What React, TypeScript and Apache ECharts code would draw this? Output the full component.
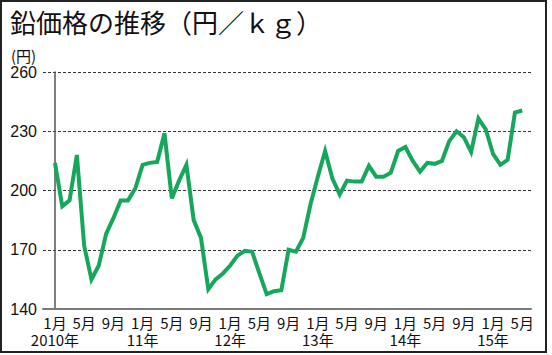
import React, { useEffect, useRef } from "react";
import * as echarts from "echarts";

const TITLE = "鉛価格の推移（円／ｋｇ）";
const UNIT = "(円)";

// Monthly lead price, Jan 2010 – May 2015 (index 0 = Jan 2010)
const prices2010 = [214, 192, 195, 218, 172, 155, 162, 178, 186, 195, 195, 201];
const prices2011 = [213, 214, 214.5, 229, 196, 205, 213, 185, 176, 150, 155, 158];
const prices2012 = [162, 167, 169.5, 169, 158, 147.5, 149, 149.5, 170, 169, 176, 193];
const prices2013 = [207, 220, 206, 198, 205, 204.5, 204.5, 212.5, 207, 207, 209, 220];
const prices2014 = [222, 215, 209.5, 214, 213.5, 215, 225, 230, 227, 219.5, 236.5, 231];
const prices2015 = [218.5, 213, 215.5, 239.5, 240.5];
const prices = [...prices2010, ...prices2011, ...prices2012, ...prices2013, ...prices2014, ...prices2015];

const monthTickPositions = [0, 4, 8, 12, 16, 20, 24, 28, 32, 36, 40, 44, 48, 52, 56, 60, 64];
const monthLabels = ["1月", "5月", "9月", "1月", "5月", "9月", "1月", "5月", "9月", "1月", "5月", "9月", "1月", "5月", "9月", "1月", "5月"];
const yearTickPositions = [0, 12, 24, 36, 48, 60];
const yearLabels = ["2010年", "11年", "12年", "13年", "14年", "15年"];

const yMin = 140;
const yMax = 260;
const yStep = 30;
const xMin = -1.64;
const xMax = 65.2;

const NARROW = "'Liberation Sans Narrow', 'Arial Narrow', 'Noto Sans CJK JP', sans-serif";
const CJK = "'Noto Sans CJK JP', sans-serif";

export default function App() {
  const ref = useRef<HTMLDivElement>(null);
  useEffect(() => {
    const chart = echarts.init(ref.current as HTMLDivElement, null, { renderer: "svg" });
    chart.setOption({
      animation: false,
      backgroundColor: "#ffffff",
      title: [
        {
          text: TITLE,
          left: 5,
          top: 3,
          textStyle: { fontSize: 26, fontWeight: "normal", color: "#111", fontFamily: CJK },
        },
        {
          text: UNIT,
          left: 6,
          top: 43,
          textStyle: { fontSize: 15, fontWeight: "normal", color: "#111", fontFamily: CJK },
        },
      ],
      grid: { left: 43, right: 21, top: 72, bottom: 46, containLabel: false },
      xAxis: [
        {
          type: "value",
          min: xMin,
          max: xMax,
          axisLine: { show: true, onZero: false, lineStyle: { color: "#7a7a7a", width: 2 } },
          axisTick: { show: false },
          splitLine: { show: false },
          axisLabel: {
            customValues: monthTickPositions,
            showMinLabel: true,
            showMaxLabel: true,
            hideOverlap: false,
            margin: 6,
            fontSize: 15,
            lineHeight: 15,
            color: "#111",
            fontFamily: NARROW,
            formatter: (v: number) => {
              const k = monthTickPositions.indexOf(Math.round(v));
              return k < 0 ? "" : monthLabels[k];
            },
          },
        },
        {
          type: "value",
          min: xMin,
          max: xMax,
          position: "bottom",
          offset: 16,
          axisLine: { show: false, onZero: false },
          axisTick: { show: false },
          splitLine: { show: false },
          axisLabel: {
            customValues: yearTickPositions,
            showMinLabel: true,
            showMaxLabel: true,
            hideOverlap: false,
            margin: 7,
            fontSize: 15,
            lineHeight: 15,
            color: "#111",
            fontFamily: NARROW,
            formatter: (v: number) => {
              const k = yearTickPositions.indexOf(Math.round(v));
              return k < 0 ? "" : yearLabels[k];
            },
          },
        },
      ],
      yAxis: {
        type: "value",
        min: yMin,
        max: yMax,
        interval: yStep,
        axisLine: { show: true, lineStyle: { color: "#555", width: 1.5 } },
        axisTick: { show: false },
        axisLabel: { fontSize: 16, color: "#111", margin: 6, fontFamily: "'Liberation Sans', Arial, sans-serif" },
        splitLine: { show: true, lineStyle: { color: "#333", width: 1, type: [3, 2] } },
      },
      series: [
        {
          type: "line",
          xAxisIndex: 0,
          data: prices.map((p, i) => [i, p]),
          symbol: "none",
          lineStyle: { color: "#17a75c", width: 4, join: "miter", miterLimit: 4 },
          z: 3,
        },
      ],
      graphic: [
        {
          type: "rect",
          shape: { x: 1, y: 1, width: 545, height: 351 },
          style: { fill: "none", stroke: "#222", lineWidth: 2 },
          silent: true,
        },
      ],
    });
    return () => chart.dispose();
  }, []);
  return <div ref={ref} style={{ position: "fixed", left: 0, top: 0, width: 552, height: 355 }} />;
}
